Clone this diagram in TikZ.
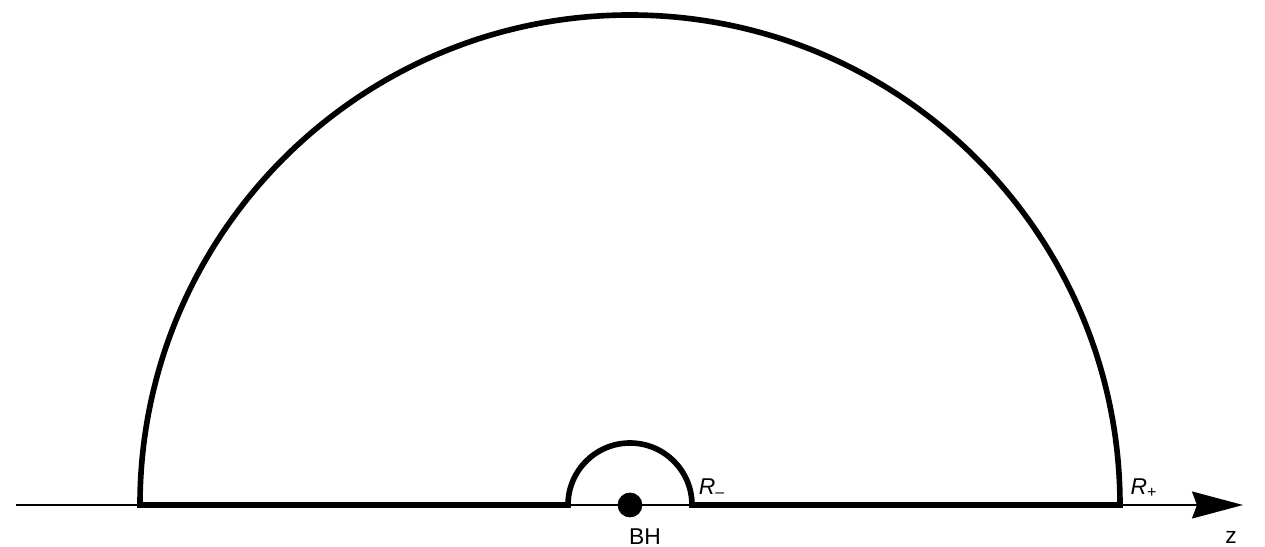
\documentclass[tikz,border=0pt]{standalone}
\usepackage{fontspec}
\setmainfont{Liberation Sans}
\usetikzlibrary{arrows.meta}

\begin{document}
\begin{tikzpicture}[line join=miter,font=\fontsize{13}{15}\selectfont]
    \useasboundingbox (-12.6,-0.84) rectangle (12.7,10.1);
    \coordinate (O) at (0,0);
    \coordinate (zl) at (-12.28,0);
    \coordinate (zr) at (12.26,0);
    \coordinate (A) at (-9.8,0);
    \coordinate (B) at (9.8,0);
    \coordinate (a) at (-1.24,0);
    \coordinate (b) at (1.24,0);
    \node (Rm) at (1.64,0.34) {\textit{R}\textsubscript{\textendash}};
    \node (Rp) at (10.28,0.34) {\textit{R}\textsubscript{+}};
    \node (bh) at (0.3,-0.64) {BH};
    \node (z) at (12.02,-0.64) {z};

%   axis
    \draw[line width=0.9pt,-{Stealth[length=1.02cm,width=0.54cm,inset=0.1cm]}] (zl) -- (zr);
    \draw[line width=3.2pt] (A) -- (a) arc[start angle=180,end angle=0,radius=1.24] -- (B)
        arc[start angle=0,end angle=180,radius=9.8] -- cycle;
    \draw[fill=black] (O) circle (0.24);
\end{tikzpicture}
\end{document}
